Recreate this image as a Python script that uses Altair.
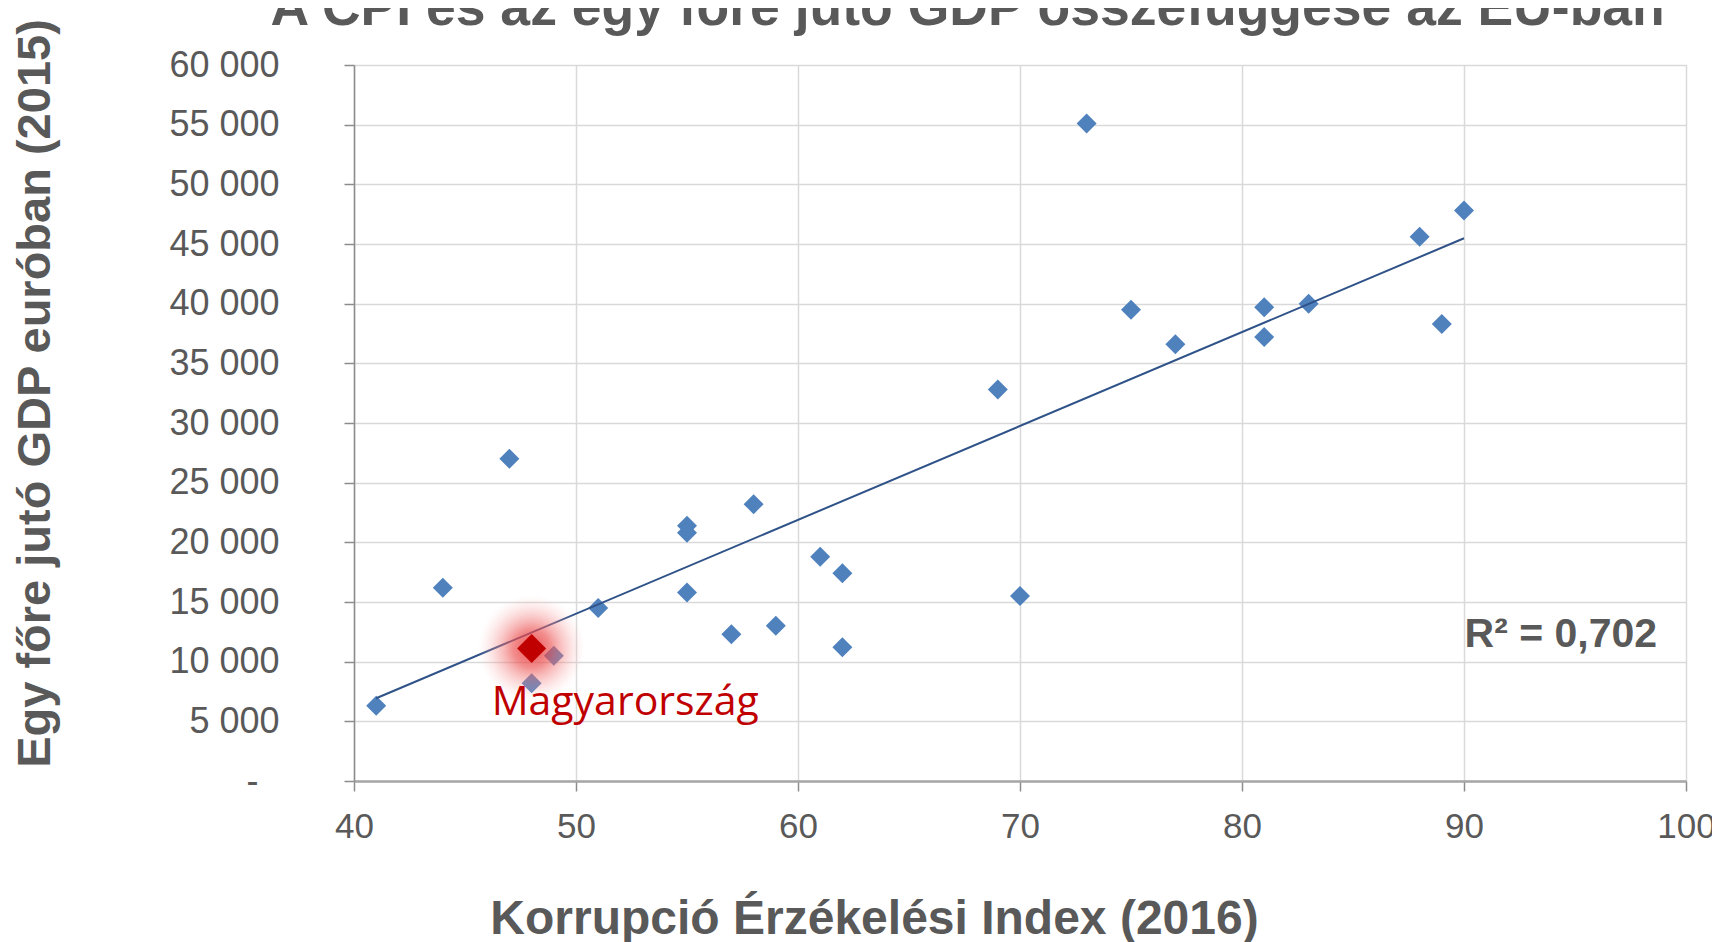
import altair as alt
import pandas as pd

# ---- data ----
cpi = [41, 44, 47, 48, 49, 48, 51, 55, 55, 55, 57, 58, 59, 61, 62, 62,
       69, 70, 73, 75, 77, 81, 81, 83, 88, 89, 90]
gdp = [6300, 16200, 27000, 11100, 10500, 8200, 14500, 21400, 20800, 15800,
       12300, 23200, 13000, 18800, 17400, 11200, 32800, 15500, 55100, 39500,
       36600, 39700, 37200, 40000, 45600, 38300, 47800]

hu_cpi = [48]
hu_gdp = [11100]

x_ticks = [40, 50, 60, 70, 80, 90, 100]
y_ticks = [0, 5000, 10000, 15000, 20000, 25000, 30000, 35000, 40000,
           45000, 50000, 55000, 60000]

ann_text = ["Magyarország", "R² = 0,702"]
ann_cpi = [46.2, 98.7]
ann_gdp = [5500, 11250]

title_text = ["A CPI és az egy főre jutó GDP összefüggése az EU-ban*"]
x_title = "Korrupció Érzékelési Index (2016)"
y_title = "Egy főre jutó GDP euróban (2015)"

df = pd.DataFrame({"cpi": cpi, "gdp": gdp})
hu = pd.DataFrame({"cpi": hu_cpi, "gdp": hu_gdp})
ann_hu = pd.DataFrame({"cpi": ann_cpi[:1], "gdp": ann_gdp[:1], "t": ann_text[:1]})
ann_r2 = pd.DataFrame({"cpi": ann_cpi[1:], "gdp": ann_gdp[1:], "t": ann_text[1:]})
title_df = pd.DataFrame({"t": title_text})

FONT = "Liberation Sans, Arial, sans-serif"
GRAY = "#595959"

x_enc = alt.X(
    "cpi:Q",
    scale=alt.Scale(domain=[40, 100], nice=False, zero=False),
    axis=alt.Axis(
        values=x_ticks, grid=True, gridColor="#d9d9d9", gridWidth=1.5,
        tickSize=10, tickColor="#8c8c8c", tickWidth=1.5,
        domainColor="#a6a6a6", domainWidth=2.5,
        labelFont=FONT, labelFontSize=35, labelColor=GRAY, labelPadding=18,
        labelOverlap=False, labelFlush=False,
        title=x_title, titleFont=FONT, titleFontSize=48, titleFontWeight="bold",
        titleColor=GRAY, titleX=520, titleY=152, titleAlign="center",
        titleBaseline="alphabetic",
    ),
)
y_enc = alt.Y(
    "gdp:Q",
    scale=alt.Scale(domain=[0, 60000], nice=False),
    axis=alt.Axis(
        values=y_ticks, grid=True, gridColor="#d9d9d9", gridWidth=1.5,
        tickSize=10, tickColor="#8c8c8c", tickWidth=1.5,
        domainColor="#8c8c8c", domainWidth=1.5,
        labelFont=FONT, labelFontSize=36, labelColor=GRAY,
        labelPadding={"condition": {"test": "datum.value == 0", "value": 86}, "value": 65},
        labelOverlap=False,
        labelExpr="datum.value == 0 ? '-' : replace(format(datum.value, ','), ',', ' ')",
        title=y_title, titleFont=FONT, titleFontSize=47, titleFontWeight="bold",
        titleColor=GRAY, titleAngle=270, titleX=-305, titleY=328,
        titleAlign="center", titleBaseline="alphabetic",
    ),
)

points = alt.Chart(df).mark_point(
    shape="diamond", filled=True, color="#4f81bd", size=400, opacity=1
).encode(x=x_enc, y=y_enc)

trend = alt.Chart(df).transform_regression("cpi", "gdp").mark_line(
    color="#2f5288", strokeWidth=2
).encode(x=x_enc, y=y_enc)

glow_fill = alt.RadialGradient(
    gradient="radial",
    stops=[
        alt.GradientStop(color="rgba(232,50,50,0.85)", offset=0),
        alt.GradientStop(color="rgba(236,80,80,0.65)", offset=0.35),
        alt.GradientStop(color="rgba(245,140,140,0.3)", offset=0.7),
        alt.GradientStop(color="rgba(255,200,200,0.0)", offset=1),
    ],
    x1=0.5, y1=0.5, x2=0.5, y2=0.5, r1=0, r2=0.5,
)
glow = alt.Chart(hu).mark_point(
    shape="circle", filled=True, fill=glow_fill, size=11500, opacity=1, strokeWidth=0
).encode(x=x_enc, y=y_enc)

red = alt.Chart(hu).mark_point(
    shape="diamond", filled=True, color="#c00000", size=841, opacity=1
).encode(x=x_enc, y=y_enc)

hu_label = alt.Chart(ann_hu).mark_text(
    font="Open Sans", fontSize=41, color="#c00000", align="left", baseline="alphabetic"
).encode(x=x_enc, y=y_enc, text="t:N")

r2_label = alt.Chart(ann_r2).mark_text(
    font=FONT, fontSize=41, fontWeight="bold", color=GRAY, align="right",
    baseline="alphabetic"
).encode(x=x_enc, y=y_enc, text="t:N")

title = alt.Chart(title_df).mark_text(
    font=FONT, fontSize=53.5, fontWeight="bold", color=GRAY, align="center",
    baseline="alphabetic"
).encode(x=alt.value(624), y=alt.value(-40), text="t:N")

chart = alt.layer(points, trend, glow, red, hu_label, r2_label, title).properties(
    width=1332, height=716,
    autosize=alt.AutoSizeParams(type="none"),
    padding={"left": 346, "top": 57, "right": 26, "bottom": 161},
).configure_view(stroke="#bfbfbf", strokeWidth=1.5).configure(background="white")

chart.save("out.html", embed_options={"renderer": "svg", "actions": False})
